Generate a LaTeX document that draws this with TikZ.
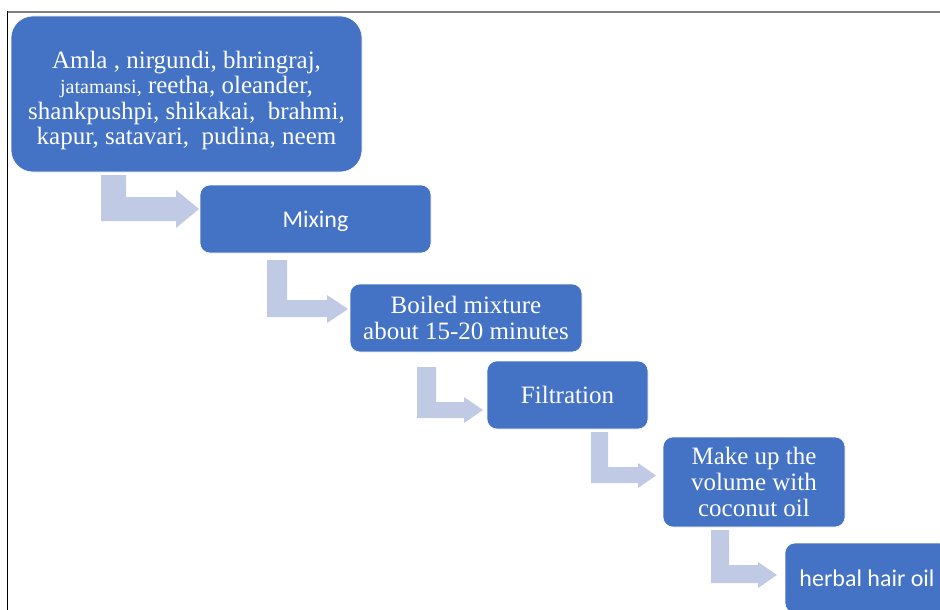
\documentclass[tikz,border=0pt]{standalone}
\usepackage{fontspec}
\setmainfont{Liberation Serif}
\newfontfamily\calfont{Carlito}
\definecolor{boxblue}{RGB}{68,114,196}
\definecolor{arrowblue}{RGB}{192,202,228}
\definecolor{frameGrey}{RGB}{128,128,128}
\tikzset{
  stepbox/.style={fill=boxblue, draw=white, line width=0.6pt, text=white, align=center,
    rounded corners=10pt, inner sep=0pt, font=\fontsize{25}{25.5}\selectfont},
  sansbox/.style={stepbox, font=\calfont\fontsize{24}{26}\selectfont},
  bentfill/.style={fill=arrowblue, draw=none}
}
% a b : vertical bar x-range, t: top, h: horizontal bar top, bb: bottom,
% hx: head base x, hy1/hy2: head y-range, tip: tip x
\newcommand\bentarr[9]{%
  \fill[bentfill] (#1,#3) -- (#2,#3) -- (#2,#4) -- (#6,#4) -- (#6,#7) -- (#9,{(#7+#8)/2})
     -- (#6,#8) -- (#6,#5) -- (#1,#5) -- cycle;}
\begin{document}
\begin{tikzpicture}[x=1pt,y=-1pt]
\useasboundingbox (0,0) rectangle (940,610);
\clip (0,0) rectangle (940,610);
% frame lines
\draw[frameGrey, line width=1.5pt] (7,12) -- (940,12);
\draw[black, line width=1pt] (7.3,11.3) -- (7.3,610);

% boxes
\node[stepbox, rounded corners=22pt, minimum width=351pt, minimum height=156pt] (b1) at (186.5,94)
  {\rule{0pt}{30pt}Amla , nirgundi, bhringraj,\\
   {\fontsize{20}{20}\selectfont jatamansi,} reetha, oleander,\\
   shankpushpi, shikakai,\ \ brahmi,\\
   kapur, satavari,\ \ pudina, neem};
\node[sansbox, minimum width=231pt, minimum height=68pt] (b2) at (315.5,219) {\rule{0pt}{22pt}Mixing};
\node[stepbox, minimum width=232pt, minimum height=68pt] (b3) at (466,318)
  {Boiled mixture\\about 15-20 minutes};
\node[stepbox, minimum width=161pt, minimum height=68pt] (b4) at (567.5,395) {Filtration};
\node[stepbox, minimum width=182pt, minimum height=90pt, font=\fontsize{25}{26}\selectfont] (b5) at (754,482)
  {Make up the\\volume with\\coconut oil};
\node[sansbox, minimum width=164pt, minimum height=70pt] (b6) at (867,578) {herbal hair oil};

% bent arrows
\bentarr{101}{126}{175}{197}{221}{176}{190}{228}{199}
\bentarr{267}{287}{260}{300}{317}{327}{295}{323}{348}
\bentarr{417}{436}{367}{402}{418}{464}{397}{423}{483}
\bentarr{591}{608}{432}{467}{483}{638}{463}{488}{656}
\bentarr{711}{729}{530}{565}{583}{758}{562}{588}{777}
\end{tikzpicture}
\end{document}
